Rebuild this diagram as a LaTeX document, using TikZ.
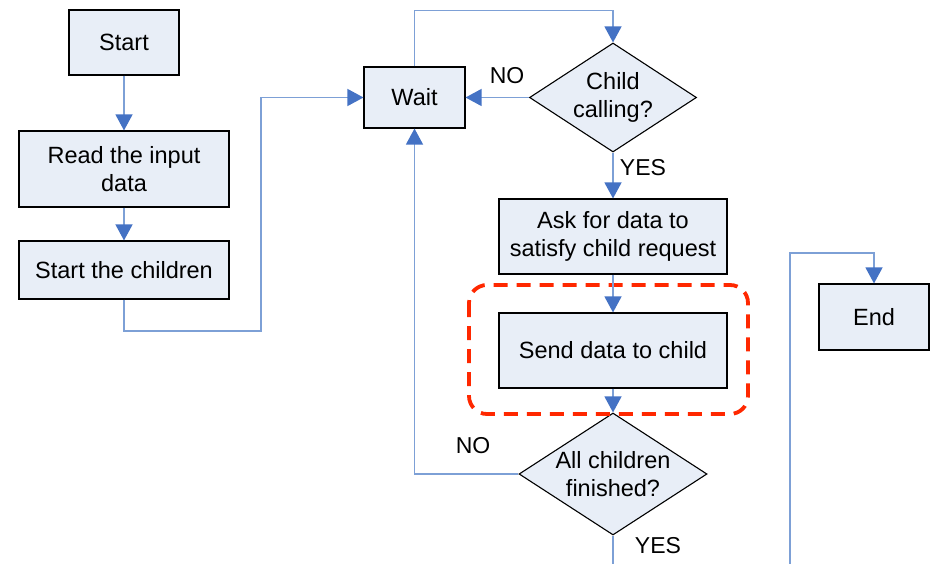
\documentclass[tikz,border=0pt]{standalone}
\usepackage{fontspec}
\setmainfont{Liberation Sans}
\usetikzlibrary{shapes.geometric,arrows.meta}
\definecolor{boxfill}{RGB}{232,238,247}
\definecolor{linkblue}{RGB}{125,160,214}
\definecolor{tipblue}{RGB}{68,114,196}
\definecolor{markred}{RGB}{255,40,0}
\begin{document}
\begin{tikzpicture}[x=1pt,y=-1pt,
  every node/.style={font=\fontsize{23.5}{28}\selectfont,align=center},
  box/.style={draw,fill=boxfill,line width=1.1pt,inner sep=0pt},
  dec/.style={draw,fill=boxfill,diamond,line width=1.1pt,inner sep=0pt},
  link/.style={draw=linkblue,line width=1.3pt,-{Triangle[length=16pt,width=17pt,color=tipblue]}},
  tag/.style={font=\fontsize{23}{26}\selectfont}]
\useasboundingbox (0,0) rectangle (931,564);
\node[box,minimum width=110pt,minimum height=65pt] (start) at (124,42.5) {Start};
\node[box,minimum width=210pt,minimum height=76pt] (read) at (124,169) {Read the input\\data};
\node[box,minimum width=210pt,minimum height=58pt] (kids) at (124,270) {Start the children};
\node[box,minimum width=101pt,minimum height=61pt] (wait) at (414.5,97.5) {Wait};
\node[dec,minimum width=167pt,minimum height=109pt,aspect=1.53] (ccall) at (613,97.5) {Child\\calling?};
\node[box,minimum width=228pt,minimum height=75pt] (ask) at (613,236.5) {Ask for data to\\satisfy child request};
\node[box,minimum width=228pt,minimum height=75pt] (send) at (613,350.5) {Send data to child};
\node[dec,minimum width=188pt,minimum height=122pt,aspect=1.54] (done) at (613,474) {All children\\finished?};
\node[box,minimum width=110pt,minimum height=66pt] (fin) at (874,317) {End};
\node[tag] (no1) at (507,76) {NO};
\node[tag] (yes1) at (643,168) {YES};
\node[tag] (no2) at (473,446) {NO};
\node[tag] (yes2) at (658,546) {YES};
\coordinate (j1) at (261,331);
\coordinate (out1) at (613,564);
\coordinate (in1) at (790,564);
\coordinate (j3) at (790,253);
% highlighted step
\draw[markred,line width=3.8pt,dash pattern=on 14pt off 9pt,rounded corners=18pt] (469,285) rectangle (748,414);
\foreach \u/\v in {start/read,read/kids,ccall/ask,ask/send,send/done,ccall/wait} \draw[link] (\u)--(\v);
\draw[link] (kids.south) |- (j1) |- (wait.west);
\draw[link] (wait.north) -- ++(0,-56) -| (ccall.north);
\draw[link] (done.west) -| (wait.south);
\draw[draw=linkblue,line width=1.3pt] (done.south) -- (out1);
\draw[link] (in1) -- (j3) -| (fin.north);
\end{tikzpicture}
\end{document}
